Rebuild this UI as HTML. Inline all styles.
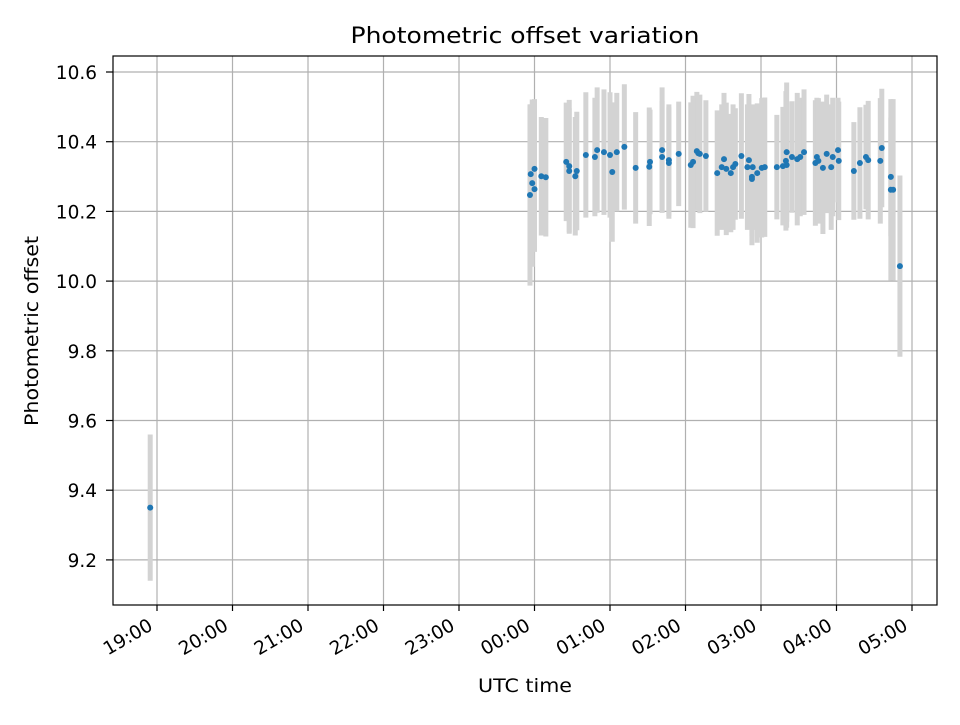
<!DOCTYPE html>
<html><head><meta charset="utf-8"><style>
body{margin:0;background:#fff;}
svg text{font-family:"DejaVu Sans","Liberation Sans",sans-serif;fill:#000;}
</style></head><body>
<svg id="chart" width="960" height="720" xmlns="http://www.w3.org/2000/svg">
<rect width="960" height="720" fill="#fff"/>
<g id="grid"></g>
<g id="errs"></g>
<g id="pts"></g>
<rect x="113" y="56" width="824" height="549" fill="none" stroke="#000" stroke-width="1.2"/>
<g id="axes"></g>
<text x="525" y="43" text-anchor="middle" font-size="22" textLength="349" lengthAdjust="spacingAndGlyphs">Photometric offset variation</text>
<text x="525" y="692" text-anchor="middle" font-size="19" textLength="94" lengthAdjust="spacingAndGlyphs">UTC time</text>
<text x="38" y="331" text-anchor="middle" font-size="19" textLength="190" lengthAdjust="spacingAndGlyphs" transform="rotate(-90 38 331)">Photometric offset</text>
</svg>
<script>
// hours after 19:00
const times=[-0.09,4.94,4.95,4.97,5.0,5.0,5.09,5.15,5.42,5.46,5.46,5.54,5.56,5.68,5.80,5.83,5.92,6.00,6.03,6.09,6.19,6.34,6.53,6.52,6.69,6.69,6.78,6.78,6.91,7.07,7.10,7.15,7.17,7.19,7.27,7.42,7.48,7.51,7.54,7.60,7.63,7.66,7.74,7.82,7.84,7.88,7.88,7.89,7.95,8.01,8.05,8.21,8.29,8.33,8.34,8.34,8.41,8.48,8.52,8.57,8.72,8.74,8.76,8.82,8.87,8.93,8.95,9.02,9.03,9.23,9.31,9.39,9.42,9.58,9.60,9.72,9.72,9.75,9.84];
const values=[9.35,10.247,10.307,10.281,10.264,10.322,10.301,10.298,10.342,10.33,10.316,10.301,10.316,10.362,10.356,10.376,10.37,10.362,10.313,10.37,10.385,10.325,10.342,10.328,10.376,10.356,10.347,10.339,10.365,10.333,10.342,10.373,10.367,10.365,10.359,10.31,10.327,10.35,10.322,10.31,10.327,10.336,10.359,10.327,10.347,10.299,10.293,10.327,10.31,10.325,10.327,10.327,10.33,10.345,10.37,10.333,10.356,10.35,10.356,10.37,10.339,10.356,10.345,10.325,10.365,10.327,10.356,10.376,10.345,10.316,10.339,10.356,10.347,10.345,10.382,10.299,10.262,10.262,10.043];
const errors=[0.21,0.26,0.2,0.24,0.18,0.2,0.17,0.17,0.17,0.19,0.18,0.17,0.17,0.18,0.17,0.18,0.18,0.18,0.2,0.17,0.18,0.16,0.15,0.17,0.18,0.16,0.16,0.16,0.15,0.18,0.19,0.17,0.16,0.17,0.16,0.18,0.18,0.19,0.19,0.17,0.18,0.16,0.18,0.18,0.19,0.17,0.19,0.18,0.2,0.2,0.2,0.15,0.17,0.2,0.2,0.18,0.16,0.19,0.17,0.18,0.18,0.17,0.18,0.19,0.17,0.18,0.17,0.15,0.17,0.14,0.16,0.15,0.17,0.18,0.17,0.17,0.26,0.26,0.26];
const xTicks=["19:00","20:00","21:00","22:00","23:00","00:00","01:00","02:00","03:00","04:00","05:00"];
const yTicks=[9.2,9.4,9.6,9.8,10.0,10.2,10.4,10.6];
const X=h=>157+h*75.5, Y=v=>72+(10.6-v)*348.5;
const NS="http://www.w3.org/2000/svg";
function mk(t,a,p){const e=document.createElementNS(NS,t);for(const k in a)e.setAttribute(k,a[k]);p.appendChild(e);return e;}
const grid=document.getElementById('grid'),axes=document.getElementById('axes');
xTicks.forEach((lab,i)=>{const x=X(i);
 const g=mk('line',{x1:x,x2:x,y1:56,y2:605,stroke:'#b0b0b0','stroke-width':1.2},grid);
 
 const t=mk('line',{x1:x,x2:x,y1:605,y2:611,stroke:'#000','stroke-width':1.2},axes);
 
 const ax=x-3, ay=629;
 const tx=mk('text',{x:ax,y:ay,'text-anchor':'end','font-size':18.5,transform:`rotate(-30 ${ax} ${ay})`},axes);
 tx.textContent=lab;});
yTicks.forEach(v=>{const y=Y(v);
 const g=mk('line',{x1:113,x2:937,y1:y,y2:y,stroke:'#b0b0b0','stroke-width':1.2},grid);
 
 const t=mk('line',{x1:106,x2:113,y1:y,y2:y,stroke:'#000','stroke-width':1.2},axes);
 
 const tx=mk('text',{x:97,y:y+7,'text-anchor':'end','font-size':18.5},axes);
 tx.textContent=v.toFixed(1);});
const eg=document.getElementById('errs'),pg=document.getElementById('pts');
times.forEach((h,i)=>{const x=X(h);
 const e=mk('line',{x1:x,x2:x,y1:Y(values[i]+errors[i]),y2:Y(values[i]-errors[i]),stroke:'#d3d3d3','stroke-width':5},eg);
 });
times.forEach((h,i)=>{
 const c=mk('circle',{cx:X(h),cy:Y(values[i]),r:3,fill:'#1f77b4'},pg);
 });
</script>
</body></html>
